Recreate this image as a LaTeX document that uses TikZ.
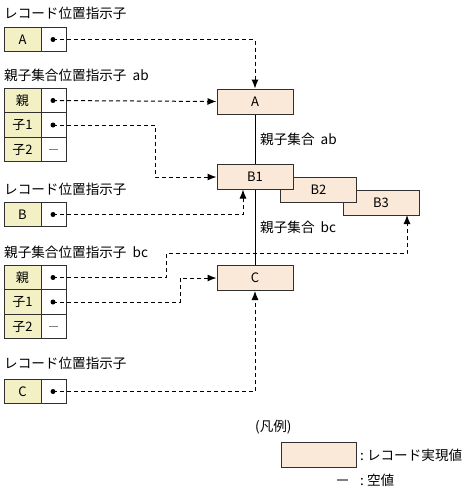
\documentclass[tikz,border=0pt]{standalone}
\usepackage{fontspec}
\setmainfont{Noto Sans CJK JP}
\usetikzlibrary{arrows.meta}
\definecolor{ptrfill}{HTML}{F2F0C4}
\definecolor{recfill}{HTML}{FAE8D8}
\definecolor{edgegray}{HTML}{303030}
\begin{document}
\begin{tikzpicture}[x=1pt,y=-1pt,
  txt/.style={font=\fontsize{13.6}{15}\selectfont, inner sep=0pt},
  keycell/.style={draw=edgegray, fill=ptrfill, minimum width=37pt, minimum height=24.5pt, inner sep=0pt, font=\fontsize{13}{15}\selectfont, line width=1pt},
  valcell/.style={draw=edgegray, fill=white, minimum width=25pt, minimum height=24.5pt, inner sep=0pt, line width=1pt},
  rec/.style={draw=edgegray, fill=recfill, minimum width=76pt, minimum height=25pt, inner sep=0pt, font=\fontsize{13}{15}\selectfont, line width=1pt},
  ptr/.style={dash pattern=on 4pt off 3pt, line width=1pt, -{Latex[length=9pt,width=7pt]}},
  dotc/.style={circle, fill=black, inner sep=0pt, minimum size=5pt},
  solidline/.style={line width=1pt},
  nullbar/.style={gray, line width=1.3pt}
]
\useasboundingbox (0,0) rectangle (472,491);

% ---------- labels ----------
\node[txt, anchor=west] (lblA) at (4,13) {レコード位置指示子};
\node[txt, anchor=west] (lblab) at (4,75) {親子集合位置指示子\ \ ab};
\node[txt, anchor=west] (lblB) at (4,189) {レコード位置指示子};
\node[txt, anchor=west] (lblbc) at (4,252) {親子集合位置指示子\ \ bc};
\node[txt, anchor=west] (lblC) at (4,363) {レコード位置指示子};

% ---------- pointer A ----------
\node[keycell] (kA) at (22.5,39.5) {A};
\node[valcell] (vA) at (53.5,39.5) {};
\node[dotc] (dA) at (53,39.5) {};

% ---------- group ab ----------
\node[keycell] (kab1) at (22.5,100.5) {親};
\node[valcell] (vab1) at (53.5,100.5) {};
\node[dotc] (dab1) at (53,100.5) {};
\node[keycell] (kab2) at (22.5,125) {子1};
\node[valcell] (vab2) at (53.5,125) {};
\node[dotc] (dab2) at (53,125) {};
\node[keycell] (kab3) at (22.5,149.5) {子2};
\node[valcell] (vab3) at (53.5,149.5) {};
\draw[nullbar] ([xshift=-4.5pt]vab3.center) -- ([xshift=4.5pt]vab3.center);

% ---------- pointer B ----------
\node[keycell] (kB) at (22.5,214.5) {B};
\node[valcell] (vB) at (53.5,214.5) {};
\node[dotc] (dB) at (53,214.5) {};

% ---------- group bc ----------
\node[keycell] (kbc1) at (22.5,277.5) {親};
\node[valcell] (vbc1) at (53.5,277.5) {};
\node[dotc] (dbc1) at (53,277.5) {};
\node[keycell] (kbc2) at (22.5,302) {子1};
\node[valcell] (vbc2) at (53.5,302) {};
\node[dotc] (dbc2) at (53,302) {};
\node[keycell] (kbc3) at (22.5,326.5) {子2};
\node[valcell] (vbc3) at (53.5,326.5) {};
\draw[nullbar] ([xshift=-4.5pt]vbc3.center) -- ([xshift=4.5pt]vbc3.center);

% ---------- pointer C ----------
\node[keycell] (kC) at (22.5,391.5) {C};
\node[valcell] (vC) at (53.5,391.5) {};
\node[dotc] (dC) at (53,391.5) {};

% ---------- records ----------
\node[rec] (rA) at (255,101.5) {A};
\node[rec] (rB3) at (381,202.5) {B3};
\node[rec] (rB2) at (318.5,189.5) {B2};
\node[rec] (rB1) at (255,177) {B1};
\node[rec] (rC) at (255,278) {C};

% parent-child set lines
\draw[solidline] (rA.south) -- (rB1.north);
\draw[solidline] (rB1.south) -- (rC.north);
\node[txt, anchor=west] (setab) at (260,139) {親子集合\ \ ab};
\node[txt, anchor=west] (setbc) at (260,227) {親子集合\ \ bc};

% ---------- pointers ----------
\draw[ptr] (dA.center) -| (rA.north);
\draw[ptr] (dab1.center) -- (rA.west);
\draw[ptr] (dab2.center) -- (155,125) |- (rB1.west);
\draw[ptr] (dB.center) -| (243,189.5);
\draw[ptr] (dbc1.center) -- (166,277.5) |- (407,253) -- (407,215);
\draw[ptr] (dbc2.center) -- (180,302) |- (rC.west);
\draw[ptr] (dC.center) -| (rC.south);

% ---------- legend ----------
\node[txt, anchor=west] (leg) at (255,427) {(凡例)};
\node[draw=edgegray, fill=recfill, minimum width=75pt, minimum height=25pt, inner sep=0pt, line width=1pt] (legbox) at (318.5,454.5) {};
\node[txt, anchor=west] (legrec) at (360,455) {:\ レコード実現値};
\coordinate (nullL) at (337,480);
\coordinate (nullR) at (348,480);
\draw[nullbar] (nullL) -- (nullR);
\node[txt, anchor=west] (legnull) at (360,480) {:\ 空値};
\end{tikzpicture}
\end{document}
